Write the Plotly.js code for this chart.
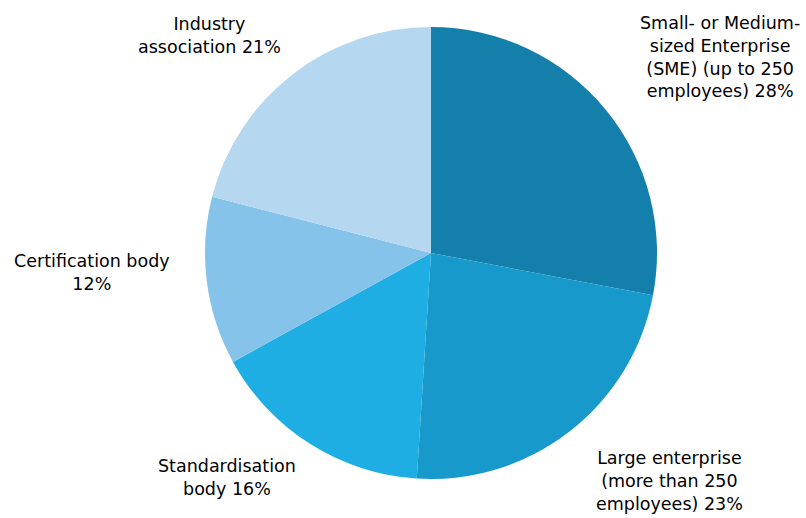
<!DOCTYPE html>
<html>
<head>
<meta charset="utf-8">
<script src="https://cdn.plot.ly/plotly-3.0.1.min.js"></script>
<style>
  html, body { margin: 0; padding: 0; background: #fff; }
  #chart { width: 806px; height: 518px; }
</style>
</head>
<body>
<div id="chart"></div>
<script>
// slices, clockwise from 12 o'clock
const categories = [
  'Small- or Medium-<br>sized Enterprise<br>(SME) (up to 250<br>employees)',
  'Large enterprise<br>(more than 250<br>employees)',
  'Standardisation<br>body',
  'Certification body<br>',
  'Industry<br>association'
];
const shares = [28, 23, 16, 12, 21];
const colors = ['#157fab', '#1899cb', '#1eaee4', '#86c3ea', '#b5d7f0'];

// where each label block sits (paper coords, centre of text)
const labelX = [720, 669, 227, 92, 209];
const labelY = [57, 481, 477, 272, 36];

const W = 806, H = 518;
const cx = 431, cy = 253, r = 226;

const trace = {
  type: 'pie',
  values: shares,
  labels: categories,
  marker: { colors: colors, line: { width: 0 } },
  sort: false,
  direction: 'clockwise',
  rotation: 0,
  textinfo: 'none',
  hoverinfo: 'label+percent',
  domain: {
    x: [(cx - r) / W, (cx + r) / W],
    y: [1 - (cy + r) / H, 1 - (cy - r) / H]
  }
};

const annotations = categories.map((c, i) => {
  const sep = c.endsWith('<br>') ? '' : ' ';
  return {
    text: c + sep + shares[i] + '%',
    x: labelX[i] / W,
    y: 1 - labelY[i] / H,
    xref: 'paper', yref: 'paper',
    xanchor: 'center', yanchor: 'middle',
    showarrow: false,
    align: 'center',
    font: { family: 'DejaVu Sans, sans-serif', size: 17.5, color: '#000' }
  };
});

const layout = {
  width: W,
  height: H,
  margin: { l: 0, r: 0, t: 0, b: 0 },
  showlegend: false,
  paper_bgcolor: '#fff',
  annotations: annotations
};

Plotly.newPlot('chart', [trace], layout, { staticPlot: true });
</script>
</body>
</html>
